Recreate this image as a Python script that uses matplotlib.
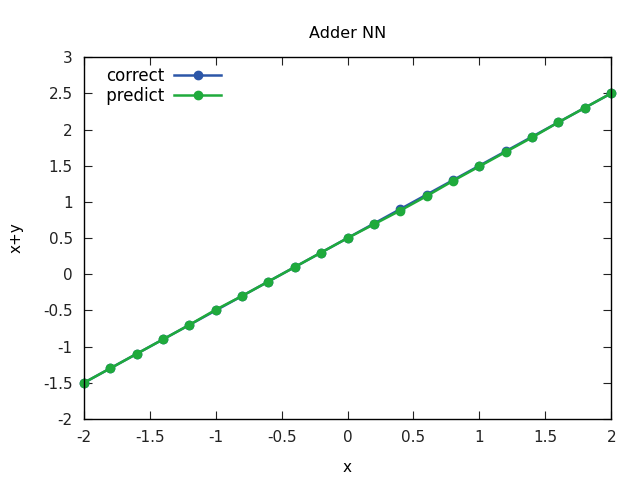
import numpy as np
import matplotlib
matplotlib.use('Agg')
import matplotlib.pyplot as plt

matplotlib.rcParams.update({'font.size': 11, 'font.family': 'DejaVu Sans'})

x = [-2.0, -1.8, -1.6, -1.4, -1.2, -1.0, -0.8, -0.6, -0.4, -0.2, 0.0,
     0.2, 0.4, 0.6, 0.8, 1.0, 1.2, 1.4, 1.6, 1.8, 2.0]
correct = [-1.5, -1.3, -1.1, -0.9, -0.7, -0.5, -0.3, -0.1, 0.1, 0.3, 0.5,
           0.7, 0.9, 1.1, 1.3, 1.5, 1.7, 1.9, 2.1, 2.3, 2.5]
predict = [-1.5, -1.3, -1.1, -0.9, -0.7, -0.49, -0.3, -0.1, 0.1, 0.3, 0.5,
           0.69, 0.88, 1.08, 1.29, 1.49, 1.69, 1.89, 2.1, 2.3, 2.5]

fig = plt.figure(figsize=(6.4, 4.8), dpi=100)
ax = fig.add_axes([0.131, 0.127, 0.824, 0.754])

ax.plot(x, correct, color='#2c56a8', lw=1.8, marker='o', ms=6, label='correct', clip_on=False)
ax.plot(x, predict, color='#1faa3c', lw=1.8, marker='o', ms=6, label=' predict', clip_on=False)

ax.set_xlim(-2, 2)
ax.set_ylim(-2, 3)
ax.set_xticks(np.arange(-2, 2.01, 0.5))
ax.set_yticks(np.arange(-2, 3.01, 0.5))
ax.set_xticklabels(['-2', '-1.5', '-1', '-0.5', '0', '0.5', '1', '1.5', '2'])
ax.set_yticklabels(['-2', '-1.5', '-1', '-0.5', '0', '0.5', '1', '1.5', '2', '2.5', '3'])
ax.tick_params(direction='in', top=True, right=True, length=6, pad=8, colors='#222222')
for s in ax.spines.values():
    s.set_linewidth(1.0)

ax.set_xlabel('x', labelpad=11)
ax.set_ylabel('x+y', labelpad=14)
ax.set_title('Adder NN', pad=14, fontsize=11.5)

ax.legend(loc='upper left', frameon=False, markerfirst=False, handlelength=2.8,
          handletextpad=0.6, borderaxespad=0.2, labelspacing=0.12, fontsize=12,
          bbox_to_anchor=(0.014, 1.0))

fig.savefig('out.png', dpi=100)
